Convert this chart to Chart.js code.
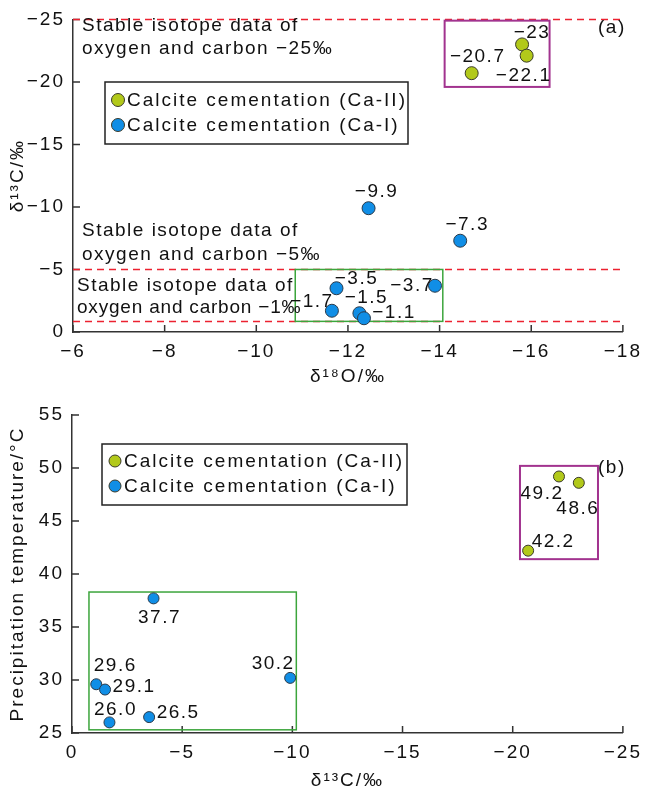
<!DOCTYPE html>
<html>
<head>
<meta charset="utf-8">
<script src="https://cdn.jsdelivr.net/npm/chart.js@4.4.1/dist/chart.umd.min.js"></script>
<style>
  body { margin: 0; background: #fff; }
  canvas { position: absolute; left: 0; }
</style>
</head>
<body>
<canvas id="chartA" width="650" height="385" style="top:0"></canvas>
<canvas id="chartB" width="650" height="409" style="top:385px"></canvas>
<script>
// ---- data (a): d18O vs d13C ----
const oxygenCaII = [-15.8, -15.9, -14.7];
const carbonCaII = [-23, -22.1, -20.7];
const oxygenCaI = [-12.45, -14.45, -11.75, -13.9, -11.65, -12.25, -12.35];
const carbonCaI = [-9.9, -7.3, -3.5, -3.7, -1.7, -1.5, -1.1];

// ---- data (b): d13C vs precipitation temperature ----
const carbonCaIIb = [-22.1, -23, -20.7];
const tempCaII = [49.2, 48.6, 42.2];
const carbonCaIb = [-3.7, -1.1, -1.5, -1.7, -3.5, -9.9];
const tempCaI = [37.7, 29.6, 29.1, 26.0, 26.5, 30.2];

// ---- ticks ----
const oxygenTicks = [-6, -8, -10, -12, -14, -16, -18];
const carbonTicksA = [-25, -20, -15, -10, -5, 0];
const carbonTicksB = [0, -5, -10, -15, -20, -25];
const tempTicks = [25, 30, 35, 40, 45, 50, 55];

const seriesNames = ['Calcite cementation (Ca-II)', 'Calcite cementation (Ca-I)'];
const referenceLines = [-25, -5, -0.9];

// label placement next to each point (pixels)
const offsetsA_II = [[9, -12], [-4, 20], [5, -16]];
const offsetsA_I = [[7, -16], [6, -16], [19, -9], [-24, 0], [-21, -9], [6, -15], [29, -5]];
const offsetsB_II = [[-18, 17], [-2, 26], [24, -9]];
const offsetsB_I = [[5, 19], [18, -18], [28, -3], [5, -13], [28, -4], [-18, -14]];

const GREEN = '#b2c91a';
const BLUE = '#108ee6';
const FONT = '"Liberation Sans", Arial, sans-serif';
const SPACING = '2px';

Chart.defaults.font.family = FONT;
Chart.defaults.font.size = 19;
Chart.defaults.color = '#111';

const minus = v => String(v).replace('-', '\u2212');

function toPoints(xs, ys) {
    return xs.map((x, i) => ({x: x, y: ys[i]}));
}

const spacingPlugin = {
    id: 'spacing',
    beforeUpdate(chart) { chart.ctx.letterSpacing = SPACING; },
    beforeDraw(chart) { chart.ctx.letterSpacing = SPACING; }
};

const labelPlugin = {
    id: 'pointLabels',
    afterDatasetsDraw(chart) {
        const ctx = chart.ctx;
        ctx.save();
        ctx.font = '19px ' + FONT;
        ctx.letterSpacing = '1.5px';
        ctx.fillStyle = '#111';
        ctx.textAlign = 'center';
        ctx.textBaseline = 'middle';
        chart.data.datasets.forEach((ds, di) => {
            chart.getDatasetMeta(di).data.forEach((pt, i) => {
                const off = ds.labelOffsets[i];
                ctx.fillText(ds.labelFormat(ds.data[i].y), pt.x + off[0] + 1, pt.y + off[1]);
            });
        });
        ctx.restore();
    }
};

const decorPlugin = {
    id: 'decor',
    beforeDatasetsDraw(chart, args, opts) {
        const {ctx, chartArea, scales: {x, y}} = chart;
        ctx.save();

        // inward tick marks
        ctx.strokeStyle = '#333';
        ctx.lineWidth = 1.5;
        ctx.beginPath();
        x.ticks.forEach(t => {
            const px = x.getPixelForValue(t.value);
            ctx.moveTo(px, chartArea.bottom);
            ctx.lineTo(px, chartArea.bottom - 7);
        });
        y.ticks.forEach(t => {
            const py = y.getPixelForValue(t.value);
            ctx.moveTo(chartArea.left, py);
            ctx.lineTo(chartArea.left + 7, py);
        });
        ctx.stroke();

        // dashed reference lines
        ctx.strokeStyle = '#ec2230';
        ctx.lineWidth = 1.5;
        ctx.setLineDash([7, 5]);
        (opts.refLines || []).forEach(v => {
            const py = Math.round(y.getPixelForValue(v)) + 0.5;
            ctx.beginPath();
            ctx.moveTo(chartArea.left, py);
            ctx.lineTo(chartArea.right, py);
            ctx.stroke();
        });
        ctx.setLineDash([]);

        // group boxes
        (opts.boxes || []).forEach(b => {
            const x1 = x.getPixelForValue(b.x[0]), x2 = x.getPixelForValue(b.x[1]);
            const y1 = y.getPixelForValue(b.y[0]), y2 = y.getPixelForValue(b.y[1]);
            ctx.strokeStyle = b.color;
            ctx.lineWidth = b.width;
            ctx.strokeRect(Math.min(x1, x2), Math.min(y1, y2), Math.abs(x2 - x1), Math.abs(y2 - y1));
        });

        // notes
        ctx.fillStyle = '#111';
        ctx.font = '19px ' + FONT;
        ctx.textBaseline = 'middle';
        ctx.textAlign = 'left';
        (opts.notes || []).forEach(n => {
            ctx.letterSpacing = n.spacing || '1.5px';
            ctx.fillText(n.text, n.x, n.y);
        });
        ctx.letterSpacing = SPACING;

        // legend box
        const lg = opts.legend;
        if (lg) {
            ctx.strokeStyle = '#222';
            ctx.lineWidth = 1.5;
            ctx.strokeRect(lg.left, lg.top, lg.width, lg.height);
            chart.data.datasets.forEach((ds, i) => {
                const cy = lg.rows[i];
                ctx.beginPath();
                ctx.arc(lg.left + 13, cy, lg.r, 0, Math.PI * 2);
                ctx.fillStyle = ds.backgroundColor;
                ctx.fill();
                ctx.lineWidth = 1;
                ctx.strokeStyle = '#3a3a2a';
                ctx.stroke();
                ctx.fillStyle = '#111';
                ctx.fillText(ds.label, lg.left + 22, cy + 1);
            });
        }
        ctx.restore();
    }
};

function axis(opts) {
    return Object.assign({
        type: 'linear',
        grid: {display: false, drawTicks: false},
        border: {display: true, color: '#333', width: 1.5},
        afterBuildTicks: s => { s.ticks = opts.tickValues.map(v => ({value: v})); },
        ticks: {callback: v => minus(v), padding: 8, color: '#111', font: {size: 19}},
        title: {display: true, text: opts.titleText, color: '#111', font: {size: 19, lineHeight: 1.0}, padding: opts.titlePad}
    }, opts.extra);
}

new Chart(document.getElementById('chartA'), {
    type: 'scatter',
    data: {
        datasets: [{
            label: seriesNames[0],
            data: toPoints(oxygenCaII, carbonCaII),
            backgroundColor: GREEN,
            borderColor: '#3a3a2a',
            borderWidth: 1,
            pointRadius: 6.5,
            labelOffsets: offsetsA_II,
            labelFormat: v => minus(v)
        }, {
            label: seriesNames[1],
            data: toPoints(oxygenCaI, carbonCaI),
            backgroundColor: BLUE,
            borderColor: '#2a3a4a',
            borderWidth: 1,
            pointRadius: 6.5,
            labelOffsets: offsetsA_I,
            labelFormat: v => minus(v)
        }]
    },
    options: {
        responsive: false,
        animation: false,
        layout: {padding: {top: 13, right: 15, left: 0, bottom: 0}, autoPadding: false},
        scales: {
            x: axis({
                tickValues: oxygenTicks,
                titleText: '\u03b4\u00b9\u2078O/\u2030',
                titlePad: {top: 0, bottom: -1},
                extra: {min: -18, max: -6, reverse: true, afterFit: s => { s.height = 53; }}
            }),
            y: axis({
                tickValues: carbonTicksA,
                titleText: '\u03b4\u00b9\u00b3C/\u2030',
                titlePad: {top: 8, bottom: 0},
                extra: {min: -25, max: 0, reverse: true, afterFit: s => { s.width = 73; }}
            })
        },
        plugins: {
            legend: {display: false},
            tooltip: {enabled: false},
            decor: {
                refLines: referenceLines,
                boxes: [
                    {x: [-10.85, -14.07], y: [-5, -0.85], color: '#3ca53c', width: 1.5},
                    {x: [-14.11, -16.4], y: [-24.9, -19.6], color: '#a2338f', width: 2}
                ],
                notes: [
                    {text: 'Stable isotope data of', x: 82, y: 26},
                    {text: 'oxygen and carbon \u221225\u2030', x: 82, y: 49},
                    {text: 'Stable isotope data of', x: 82, y: 231},
                    {text: 'oxygen and carbon \u22125\u2030', x: 82, y: 255},
                    {text: 'Stable isotope data of', x: 77, y: 286},
                    {text: 'oxygen and carbon \u22121\u2030', x: 77, y: 308, spacing: '0.8px'},
                    {text: '(a)', x: 598, y: 28}
                ],
                legend: {left: 105, top: 82, width: 303, height: 62, rows: [100, 125], r: 6.5}
            }
        }
    },
    plugins: [spacingPlugin, decorPlugin, labelPlugin]
});

new Chart(document.getElementById('chartB'), {
    type: 'scatter',
    data: {
        datasets: [{
            label: seriesNames[0],
            data: toPoints(carbonCaIIb, tempCaII),
            backgroundColor: GREEN,
            borderColor: '#3a3a2a',
            borderWidth: 1,
            pointRadius: 5.5,
            labelOffsets: offsetsB_II,
            labelFormat: v => v.toFixed(1)
        }, {
            label: seriesNames[1],
            data: toPoints(carbonCaIb, tempCaI),
            backgroundColor: BLUE,
            borderColor: '#2a3a4a',
            borderWidth: 1,
            pointRadius: 5.5,
            labelOffsets: offsetsB_I,
            labelFormat: v => v.toFixed(1)
        }]
    },
    options: {
        responsive: false,
        animation: false,
        layout: {padding: {top: 30, right: 17, left: 0, bottom: 0}, autoPadding: false},
        scales: {
            x: axis({
                tickValues: carbonTicksB,
                titleText: '\u03b4\u00b9\u00b3C/\u2030',
                titlePad: {top: 0, bottom: 4},
                extra: {min: -25, max: 0, reverse: true, afterFit: s => { s.height = 61; }}
            }),
            y: axis({
                tickValues: tempTicks,
                titleText: 'Precipitation temperature/\u00b0C',
                titlePad: {top: 8, bottom: 0},
                extra: {min: 25, max: 55, afterFit: s => { s.width = 72; }}
            })
        },
        plugins: {
            legend: {display: false},
            tooltip: {enabled: false},
            decor: {
                boxes: [
                    {x: [-0.77, -10.18], y: [38.3, 25.3], color: '#3ca53c', width: 1.5},
                    {x: [-20.33, -23.87], y: [50.2, 41.4], color: '#a2338f', width: 2}
                ],
                notes: [
                    {text: '(b)', x: 598, y: 83}
                ],
                legend: {left: 102, top: 59, width: 305, height: 61, rows: [76, 101], r: 6}
            }
        }
    },
    plugins: [spacingPlugin, decorPlugin, labelPlugin]
});
</script>
</body>
</html>
